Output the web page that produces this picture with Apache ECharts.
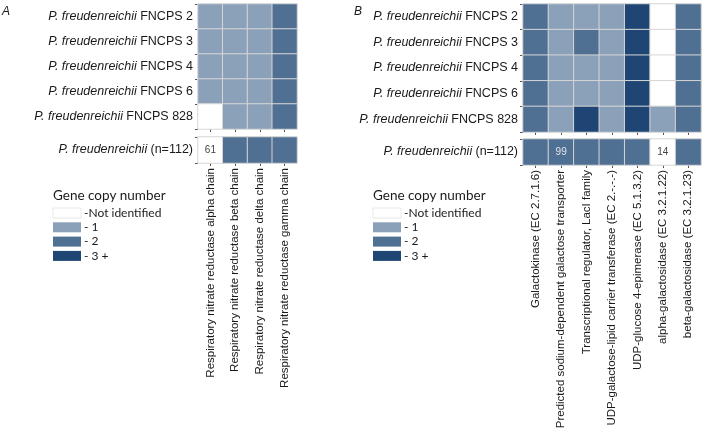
<!DOCTYPE html>
<html>
<head>
<meta charset="utf-8">
<script src="https://cdn.jsdelivr.net/npm/echarts@6/dist/echarts.min.js"></script>
<style>
  html, body { margin: 0; padding: 0; background: #fff; }
  #main { width: 708px; height: 433px; }
</style>
</head>
<body>
<div id="main"></div>
<script>
  // strains (rows) for both panels
  var strains = ['FNCPS 2', 'FNCPS 3', 'FNCPS 4', 'FNCPS 6', 'FNCPS 828'];
  var poolRow = ['(n=112)'];

  // panel A genes
  var genesA = [
    'Respiratory nitrate reductase alpha chain',
    'Respiratory nitrate reductase beta chain',
    'Respiratory nitrate reductase delta chain',
    'Respiratory nitrate reductase gamma chain'
  ];
  // copy numbers, one row per strain (0 = not identified, 3 = 3+)
  var copiesA = [
    [1, 1, 1, 2],
    [1, 1, 1, 2],
    [1, 1, 1, 2],
    [1, 1, 1, 2],
    [0, 1, 1, 2]
  ];
  var poolA = [0, 2, 2, 2];
  var poolLabelA = ['61', '', '', ''];

  // panel B genes
  var genesB = [
    'Galactokinase (EC 2.7.1.6)',
    'Predicted sodium-dependent galactose transporter',
    'Transcriptional regulator, LacI family',
    'UDP-galactose-lipid carrier transferase (EC 2.-.-.-)',
    'UDP-glucose 4-epimerase (EC 5.1.3.2)',
    'alpha-galactosidase (EC 3.2.1.22)',
    'beta-galactosidase (EC 3.2.1.23)'
  ];
  var copiesB = [
    [2, 1, 1, 1, 3, 0, 2],
    [2, 1, 2, 1, 3, 0, 2],
    [2, 1, 1, 1, 3, 0, 2],
    [2, 1, 1, 1, 3, 0, 2],
    [2, 1, 3, 1, 3, 1, 2]
  ];
  var poolB = [2, 2, 2, 2, 2, 0, 2];
  var poolLabelB = ['', '99', '', '', '', '14', ''];

  var legendLabels = ['-Not identified', '- 1', '- 2', '- 3 +'];
  var levelColors = ['#ffffff', '#8ba1b9', '#4f6f93', '#1e4573'];

  var myChart = echarts.init(document.getElementById('main'));

  function matrixData(mat) {
    var out = [];
    for (var r = 0; r < mat.length; r++) {
      for (var c = 0; c < mat[r].length; c++) {
        out.push([c, r, mat[r][c]]);
      }
    }
    return out;
  }

  function poolData(vals, labels) {
    return vals.map(function (v, c) {
      return {
        value: [c, 0, v],
        label: {
          show: labels[c] !== '',
          formatter: labels[c],
          color: v === 0 ? '#444' : '#dfe5ec',
          fontSize: 10,
          fontFamily: 'Liberation Sans'
        }
      };
    });
  }

  var rowFormatter = function (v) {
    return '{i|P. freudenreichii} {n|' + v + '}';
  };
  var rowRich = {
    i: { fontStyle: 'italic', fontSize: 12.5, fontFamily: 'Liberation Sans', color: '#1a1a1a' },
    n: { fontSize: 12.5, fontFamily: 'Liberation Sans', color: '#1a1a1a' }
  };

  function yAxisFor(idx, cats) {
    return {
      type: 'category', gridIndex: idx, data: cats, inverse: true,
      axisLine: { show: false },
      axisTick: { show: true, length: 3, lineStyle: { color: '#555' } },
      axisLabel: { formatter: rowFormatter, rich: rowRich, margin: 5 },
      splitLine: { show: false }
    };
  }

  function xAxisFor(idx, cats, showLabel) {
    return {
      type: 'category', gridIndex: idx, data: cats,
      axisLine: { show: false },
      axisTick: { show: true, length: 3, alignWithLabel: true, lineStyle: { color: '#555' } },
      axisLabel: {
        show: showLabel, rotate: 90, interval: 0, margin: 5,
        fontSize: 11.5, fontFamily: 'Liberation Sans', color: '#1a1a1a'
      },
      splitLine: { show: false }
    };
  }

  var cellStyle = { borderColor: '#d6d6d6', borderWidth: 1 };

  // colour scale (hidden) + hand-drawn legend keys like the ggplot one
  function scaleFor(series) {
    return {
      type: 'piecewise', show: false, seriesIndex: series, dimension: 2,
      pieces: levelColors.map(function (c, i) { return { value: i, color: c }; })
    };
  }

  function legendGraphics(left) {
    var els = [{
      type: 'text', left: left, top: 189,
      style: { text: 'Gene copy number', fontSize: 13.5, fontFamily: 'Lato', fill: '#1a1a1a' }
    }];
    legendLabels.forEach(function (lab, i) {
      var y = 208 + i * 14.3;
      els.push({
        type: 'rect', x: left, y: y,
        shape: { width: 28, height: 10 },
        style: { fill: levelColors[i], stroke: i === 0 ? '#e8e8e8' : null, lineWidth: 1 }
      });
      els.push({
        type: 'text', x: left + 31, y: y + 5,
        style: { text: lab, fontSize: 12, fontFamily: 'Lato', fill: '#1a1a1a', verticalAlign: 'middle' }
      });
    });
    return els;
  }

  var option = {
    animation: false,
    backgroundColor: '#fff',
    grid: [
      { left: 198, top: 4, width: 99, height: 125 },
      { left: 198, top: 137, width: 99, height: 26 },
      { left: 523, top: 4, width: 178, height: 128 },
      { left: 523, top: 139, width: 178, height: 26 }
    ],
    xAxis: [
      xAxisFor(0, genesA, false),
      xAxisFor(1, genesA, true),
      xAxisFor(2, genesB, false),
      xAxisFor(3, genesB, true)
    ],
    yAxis: [
      yAxisFor(0, strains),
      yAxisFor(1, poolRow),
      yAxisFor(2, strains),
      yAxisFor(3, poolRow)
    ],
    visualMap: [scaleFor([0, 1]), scaleFor([2, 3])],
    graphic: [
      { type: 'text', left: 2, top: 6, style: { text: 'A', fontSize: 12, fontStyle: 'italic', fontFamily: 'Liberation Sans', fill: '#1a1a1a' } },
      { type: 'text', left: 354, top: 6, style: { text: 'B', fontSize: 12, fontStyle: 'italic', fontFamily: 'Liberation Sans', fill: '#1a1a1a' } }
    ].concat(legendGraphics(53), legendGraphics(373)),
    series: [
      { type: 'heatmap', xAxisIndex: 0, yAxisIndex: 0, data: matrixData(copiesA), itemStyle: cellStyle },
      { type: 'heatmap', xAxisIndex: 1, yAxisIndex: 1, data: poolData(poolA, poolLabelA), itemStyle: cellStyle },
      { type: 'heatmap', xAxisIndex: 2, yAxisIndex: 2, data: matrixData(copiesB), itemStyle: cellStyle },
      { type: 'heatmap', xAxisIndex: 3, yAxisIndex: 3, data: poolData(poolB, poolLabelB), itemStyle: cellStyle }
    ]
  };
  myChart.setOption(option);
</script>
</body>
</html>
